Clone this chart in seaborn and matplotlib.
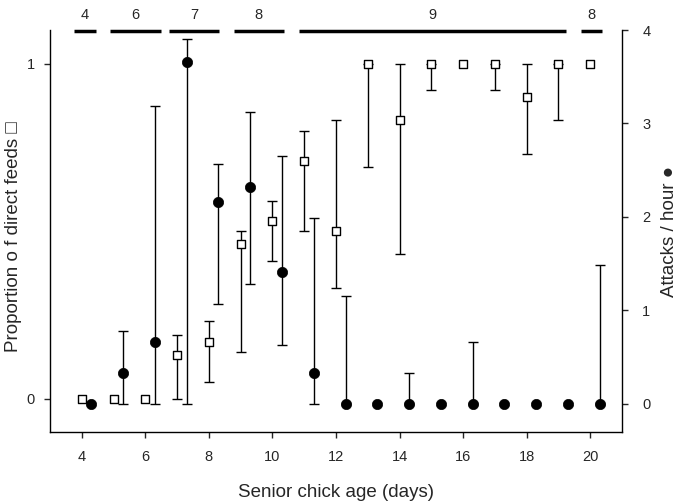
import numpy as np
import seaborn as sns
import matplotlib.pyplot as plt
from matplotlib import transforms

# senior chick age (days)
days = list(range(4, 21))

# proportion of direct feeds (squares, left axis) with lower / upper limits
prop_feeds = [0, 0, 0, 0.13, 0.17, 0.46, 0.53, 0.71, 0.50, 1.0, 0.83, 1.0, 1.0, 1.0, 0.90, 1.0, 1.0]
prop_lo = [0, 0, 0, 0, 0.05, 0.14, 0.41, 0.50, 0.33, 0.69, 0.43, 0.92, 1.0, 0.92, 0.73, 0.83, 1.0]
prop_hi = [0, 0, 0, 0.19, 0.23, 0.50, 0.59, 0.80, 0.83, 1.0, 1.0, 1.0, 1.0, 1.0, 1.0, 1.0, 1.0]

# attacks / hour (circles, right axis) with lower / upper limits
attacks = [0, 0.33, 0.66, 3.66, 2.16, 2.32, 1.41, 0.33, 0, 0, 0, 0, 0, 0, 0, 0, 0]
att_lo = [0, 0, 0, 0, 1.07, 1.28, 0.63, 0, 0, 0, 0, 0, 0, 0, 0, 0, 0]
att_hi = [0, 0.78, 3.19, 3.90, 2.57, 3.12, 2.65, 1.99, 1.16, 0, 0.33, 0, 0.66, 0, 0, 0, 1.49]

# brood size bars along the top
brood_start = [3.75, 4.9, 6.73, 8.78, 10.83, 19.7]
brood_end = [4.46, 6.5, 8.33, 10.35, 19.23, 20.37]
brood_label = ['4', '6', '7', '8', '9', '8']

sns.set_style('ticks')
plt.rcParams['font.family'] = ['Liberation Sans', 'DejaVu Sans']
plt.rcParams['axes.edgecolor'] = 'black'
plt.rcParams['axes.linewidth'] = 1.0

fig = plt.figure(figsize=(6.79, 5.01), dpi=100)
ax = fig.add_axes([50 / 679, 1 - 432 / 501, 572 / 679, 402 / 501])
ax2 = ax.twinx()

x_sq = np.array(days, dtype=float)
x_ci = x_sq + 0.3  # circles are drawn slightly to the right

y = np.array(prop_feeds)
lo = np.array(prop_lo)
hi = np.array(prop_hi)
m = hi > lo
ax.errorbar(x_sq[m], y[m], yerr=[y[m] - lo[m], hi[m] - y[m]], fmt='none',
            ecolor='black', elinewidth=1, capsize=3.5, capthick=1, zorder=2)
sns.scatterplot(x=x_sq, y=y, marker='s', s=32, color='white', edgecolor='black',
                linewidth=1, ax=ax, zorder=3, legend=False)

a = np.array(attacks)
alo = np.array(att_lo)
ahi = np.array(att_hi)
m = ahi > alo
ax2.errorbar(x_ci[m], a[m], yerr=[a[m] - alo[m], ahi[m] - a[m]], fmt='none',
             ecolor='black', elinewidth=1, capsize=3.5, capthick=1, zorder=2)
sns.scatterplot(x=x_ci, y=a, marker='o', s=55, color='black', edgecolor='black',
                linewidth=0.5, ax=ax2, zorder=3, legend=False)

ax.set_xlim(3, 21)
ax.set_ylim(-0.1, 1.1)
ax2.set_ylim(-0.3, 4.0)
ax.set_xticks(range(4, 21, 2))
ax.set_yticks([0, 1])
ax2.set_yticks([0, 1, 2, 3, 4])

for s in ['top', 'right']:
    ax.spines[s].set_visible(False)
for s in ['top', 'left', 'bottom']:
    ax2.spines[s].set_visible(False)

ax.tick_params(axis='x', length=4.5, width=1, pad=8.5, labelsize=10.5)
ax.tick_params(axis='y', length=4.5, width=1, pad=6.5, labelsize=10.5)
ax2.tick_params(axis='y', length=4.5, width=1, pad=10, labelsize=10.5)

ax.set_xlabel('Senior chick age (days)', fontsize=13.5)
ax.xaxis.label.set_va('baseline')
ax.xaxis.set_label_coords(0.5, (432 - 497) / 402)

ax.set_ylabel('Proportion o f direct feeds \u25a1', fontsize=13.5)
ax.yaxis.label.set_va('center')
ax.yaxis.set_label_coords((14 - 50) / 572, 0.485)

ax2.set_ylabel('Attacks / hour \u25cf', fontsize=13.5, rotation=90)
ax2.yaxis.label.set_va('center')
ax2.yaxis.set_label_coords((670 - 50) / 572, 0.5)

trans = transforms.blended_transform_factory(ax.transData, ax.transAxes)
for x0, x1, lab in zip(brood_start, brood_end, brood_label):
    ax.plot([x0, x1], [0.998, 0.998], color='black', lw=2.5, transform=trans,
            clip_on=False, solid_capstyle='butt')
    ax.text((x0 + x1) / 2, 1.037, lab, transform=trans, ha='center', va='center',
            fontsize=10.5)

fig.savefig('out.png', dpi=100)
